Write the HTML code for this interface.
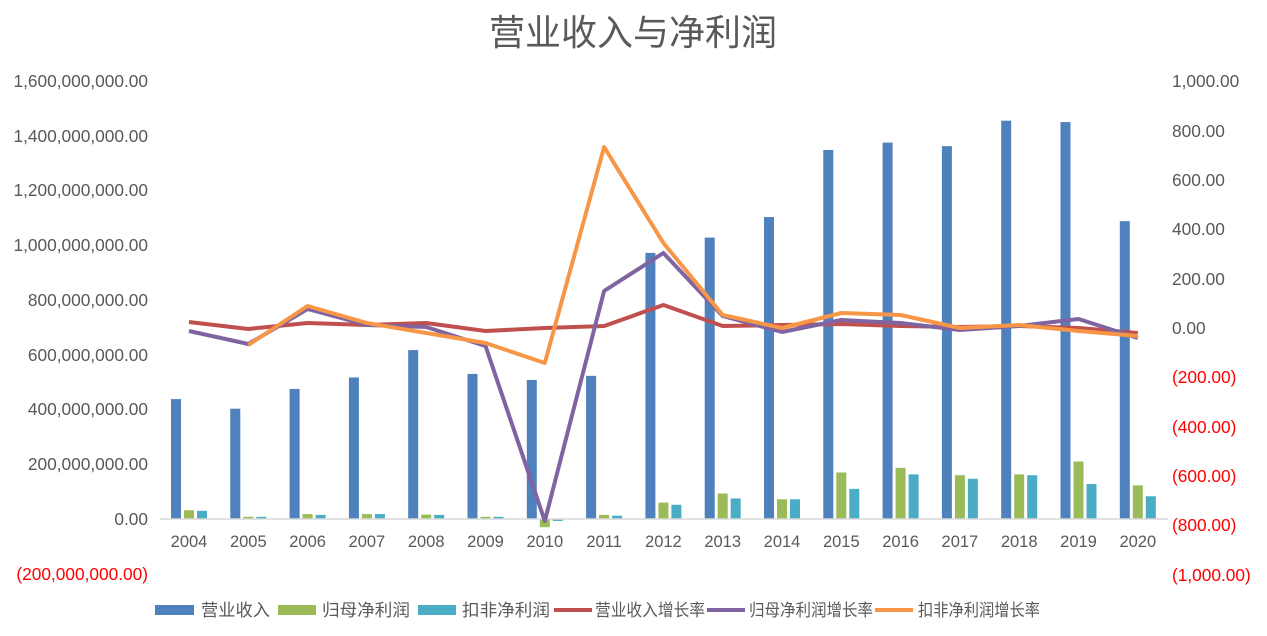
<!DOCTYPE html>
<html><head><meta charset="utf-8"><style>
html,body{margin:0;padding:0;background:#fff;}
svg{display:block;font-family:"Liberation Sans","Noto Sans CJK SC",sans-serif;}
</style></head><body>
<svg width="1267" height="636" viewBox="0 0 1267 636" xmlns="http://www.w3.org/2000/svg">
<text x="633" y="45" text-anchor="middle" font-size="36" fill="#595959">营业收入与净利润</text>
<g font-size="17.3" fill="#595959" text-anchor="end">
<text x="148" y="87">1,600,000,000.00</text>
<text x="148" y="142">1,400,000,000.00</text>
<text x="148" y="196">1,200,000,000.00</text>
<text x="148" y="251">1,000,000,000.00</text>
<text x="148" y="306">800,000,000.00</text>
<text x="148" y="361">600,000,000.00</text>
<text x="148" y="415">400,000,000.00</text>
<text x="148" y="470">200,000,000.00</text>
<text x="148" y="525">0.00</text>
<text x="148" y="580" fill="#ff0000">(200,000,000.00)</text>
</g>
<g font-size="17.3" fill="#595959" text-anchor="start">
<text x="1172" y="87">1,000.00</text>
<text x="1172" y="137">800.00</text>
<text x="1172" y="186">600.00</text>
<text x="1172" y="235">400.00</text>
<text x="1172" y="285">200.00</text>
<text x="1172" y="334">0.00</text>
<text x="1172" y="383" fill="#ff0000">(200.00)</text>
<text x="1172" y="433" fill="#ff0000">(400.00)</text>
<text x="1172" y="482" fill="#ff0000">(600.00)</text>
<text x="1172" y="531" fill="#ff0000">(800.00)</text>
<text x="1172" y="581" fill="#ff0000">(1,000.00)</text>
</g>
<g id="bars"></g>
<line x1="160" y1="519" x2="1168" y2="519" stroke="#d9d9d9" stroke-width="1.5"/>
<g id="labels" font-size="16.5" fill="#595959" text-anchor="middle"></g>
<g id="lines" fill="none" stroke-width="4" stroke-linejoin="round"></g>
<g font-size="17" fill="#595959" lengthAdjust="spacingAndGlyphs">
<rect x="155" y="605" width="39" height="10" fill="#4f81bd"/><text x="201" y="616" textLength="69" lengthAdjust="spacingAndGlyphs">营业收入</text>
<rect x="278" y="605" width="38" height="10" fill="#9bbb59"/><text x="322" y="616" textLength="88" lengthAdjust="spacingAndGlyphs">归母净利润</text>
<rect x="418" y="605" width="38" height="10" fill="#4bacc6"/><text x="462" y="616" textLength="88" lengthAdjust="spacingAndGlyphs">扣非净利润</text>
<line x1="554" y1="610" x2="592" y2="610" stroke="#c0504d" stroke-width="4"/><text x="595" y="616" textLength="110" lengthAdjust="spacingAndGlyphs">营业收入增长率</text>
<line x1="707" y1="610" x2="745" y2="610" stroke="#8064a2" stroke-width="4"/><text x="749" y="616" textLength="124" lengthAdjust="spacingAndGlyphs">归母净利润增长率</text>
<line x1="875" y1="610" x2="913" y2="610" stroke="#f79646" stroke-width="4"/><text x="918" y="616" textLength="122" lengthAdjust="spacingAndGlyphs">扣非净利润增长率</text>
</g>
</svg>
<script>
var ns="http://www.w3.org/2000/svg";
var rev=[438,403,475,517,617,530,508,523,972,1028,1103,1348,1375,1362,1455,1450,1088];
var np=[32,8,18,18,16,8,-30,15,60,93,72,170,187,160,163,210,123];
var kf=[30,8,15,18,15,8,-7,12,52,75,72,110,163,147,160,128,83];
var red=[322,329,323,325,323,331,328,326,305,326,325,324,326,327,326,328,333];
var pur=[331,344,309,325,327,346,521,291,253,316,332,320,323,330,326,319,338];
var ora=[null,345,306,323,333,343,363,147,243,315,328,313,315,328,325,331,336];
var s=0.27375,base=519;
function cx(i){return 189+i*59.3;}
var bars=document.getElementById('bars'),lab=document.getElementById('labels'),lines=document.getElementById('lines');
function bar(x,v,c){var r=document.createElementNS(ns,'rect');var h=v*s;r.setAttribute('x',x);r.setAttribute('width',10);
r.setAttribute('y',h>=0?base-h:base);r.setAttribute('height',Math.abs(h));r.setAttribute('fill',c);bars.appendChild(r);}
for(var i=0;i<17;i++){var c=cx(i);bar(c-18,rev[i],'#4f81bd');bar(c-5,np[i],'#9bbb59');bar(c+8,kf[i],'#4bacc6');
var t=document.createElementNS(ns,'text');t.setAttribute('x',c);t.setAttribute('y',547);t.textContent=2004+i;lab.appendChild(t);}
function line(d,col){var p=[];for(var i=0;i<d.length;i++)if(d[i]!=null)p.push(cx(i).toFixed(1)+','+d[i]);
var e=document.createElementNS(ns,'polyline');e.setAttribute('points',p.join(' '));e.setAttribute('stroke',col);lines.appendChild(e);}
line(red,'#c0504d');line(pur,'#8064a2');line(ora,'#f79646');
</script>
</body></html>
